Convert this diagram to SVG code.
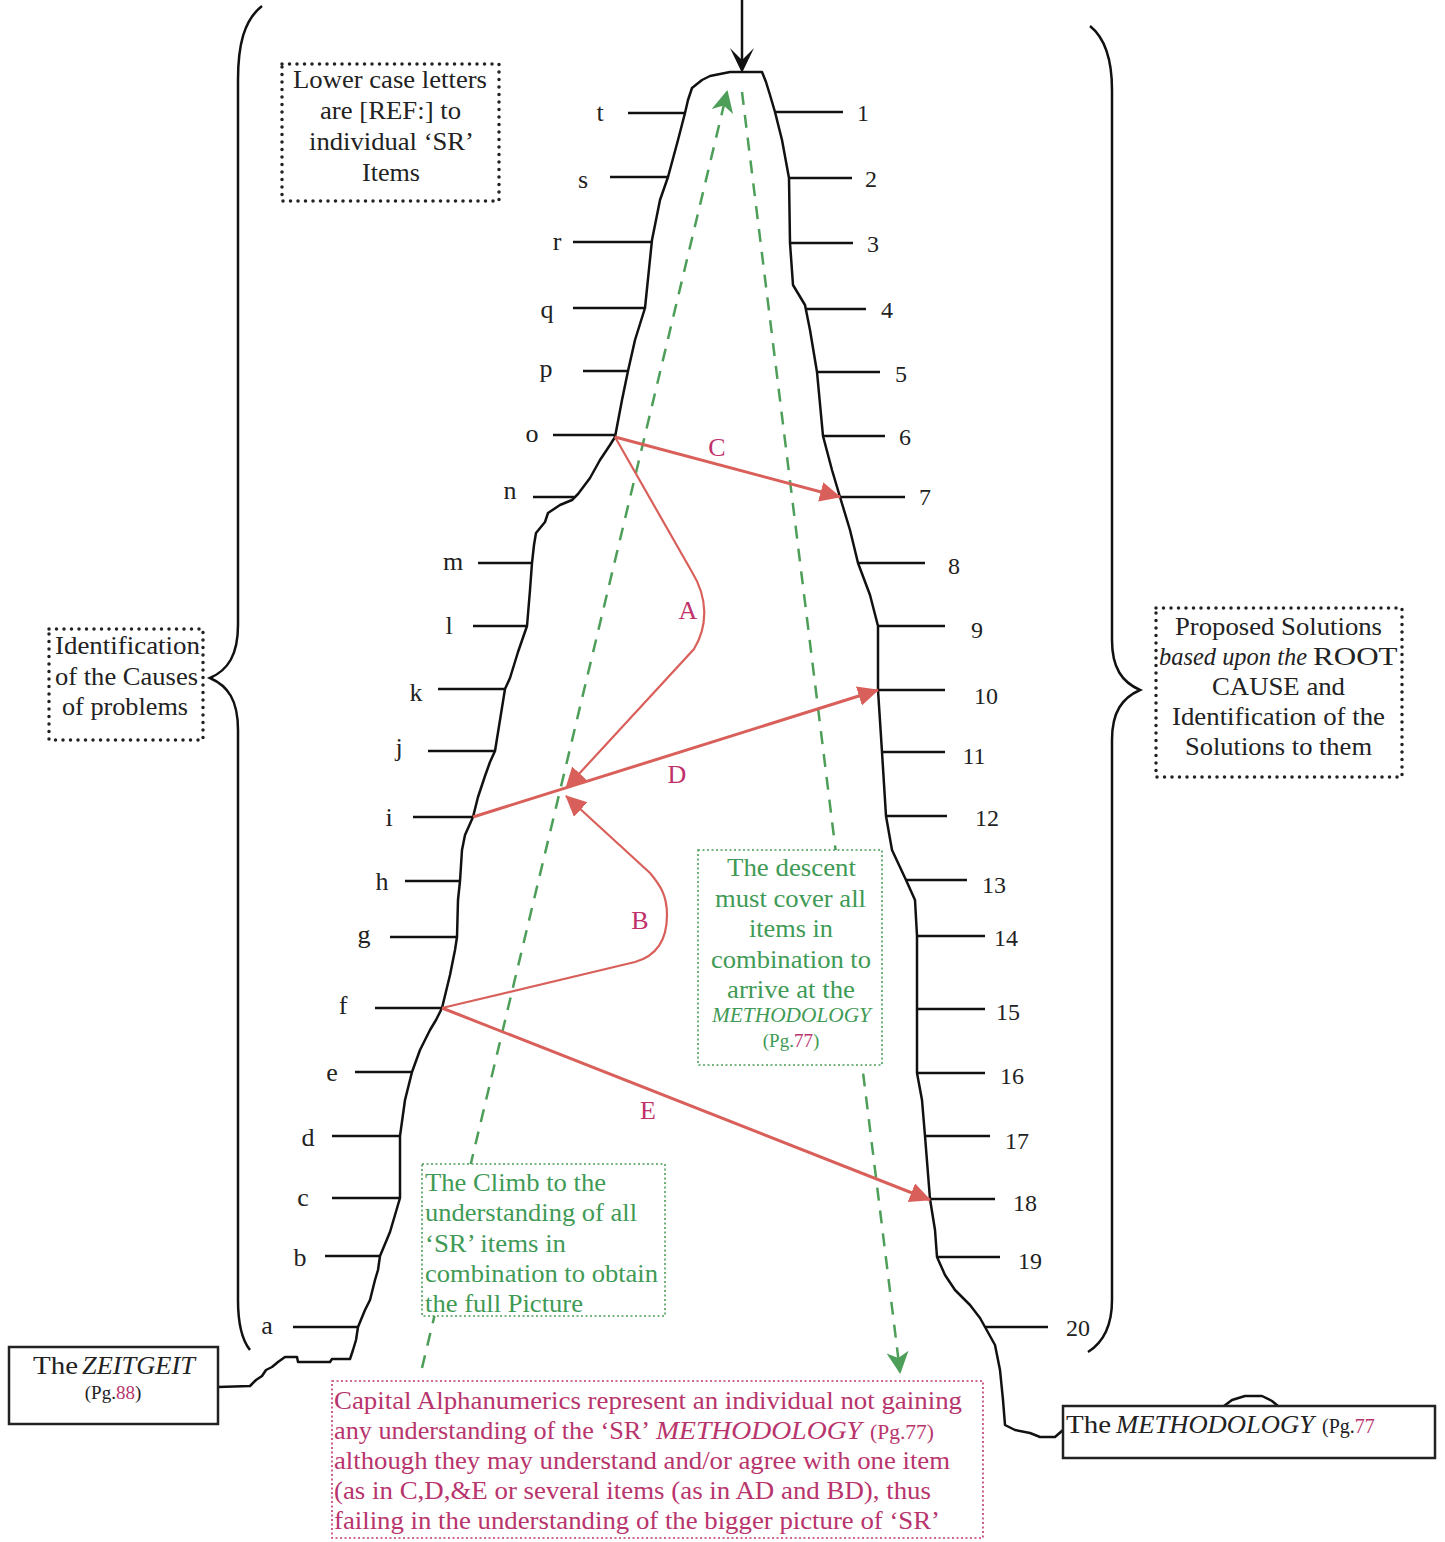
<svg xmlns="http://www.w3.org/2000/svg" width="1445" height="1542" viewBox="0 0 1445 1542">
<style>
  .t { font-family: "Liberation Serif", "Times New Roman", serif; fill: #222; }
  .lbl { font-size: 26px; text-anchor: middle; }
  .num { font-size: 24px; text-anchor: middle; }
  .tick { stroke: #111; stroke-width: 2.5; fill: none; }
  .outline { stroke: #111; stroke-width: 2.5; fill: none; stroke-linejoin: round; }
  .brace { stroke: #111; stroke-width: 2.5; fill: none; }
  .red { stroke: #d9605a; stroke-width: 3; fill: none; }
  .redthin { stroke: #d9605a; stroke-width: 2.2; fill: none; }
  .green { stroke: #4c9e58; stroke-width: 2.5; fill: none; stroke-dasharray: 13 10; }
  .bdot { fill: #fff; stroke: #222; stroke-width: 3.5; stroke-dasharray: 0 7.5; stroke-linecap: round; }
  .gdot { fill: #fff; stroke: #4c9e58; stroke-width: 1.6; stroke-dasharray: 2 2.5; }
  .mdot { fill: #fff; stroke: #c03a72; stroke-width: 1.6; stroke-dasharray: 2 2.5; }
  .solid { fill: #fff; stroke: #222; stroke-width: 2.5; }
  .gt { font-family: "Liberation Serif", "Times New Roman", serif; fill: #3f9a55; font-size: 26px; }
  .gsmall { font-family: "Liberation Serif", "Times New Roman", serif; fill: #3f9a55; font-size: 19px; }
  .mt { font-family: "Liberation Serif", "Times New Roman", serif; fill: #b8346c; font-size: 26px; }
  .cap { font-family: "Liberation Serif", "Times New Roman", serif; fill: #c0306a; font-size: 26px; text-anchor: middle; }
  .mag { fill: #b8346c; }
</style>
<defs>
  <marker id="redArrow" markerWidth="24" markerHeight="22" refX="20" refY="10" orient="auto" markerUnits="userSpaceOnUse">
    <path d="M0,0 L21,10 L0,20 Z" fill="#d9605a"/>
  </marker>
  <marker id="greenArrow" markerWidth="26" markerHeight="26" refX="20" refY="12" orient="auto" markerUnits="userSpaceOnUse">
    <path d="M0,1 L22,12 L0,23 L6,12 Z" fill="#4c9e58"/>
  </marker>
</defs>

<!-- braces -->
<g id="brace-left">
  <path class="brace" d="M262,6 C244,20 238,45 238,80 L238,625 C238,655 228,670 210,678 C228,686 238,700 238,730 L238,1300 C238,1325 242,1340 250,1350"/>
</g>
<g id="brace-right">
  <path class="brace" d="M1090,26 C1105,38 1112,58 1112,90 L1112,640 C1112,668 1122,682 1140,690 C1122,698 1112,712 1112,740 L1112,1300 C1112,1325 1104,1342 1088,1352"/>
</g>

<!-- mountain -->
<g id="mountain">
  <path class="outline" d="M218,1387 L250,1386 L256,1380 L262,1376 L266,1370 L272,1367 L278,1362 L285,1357 L297,1357 L298,1362 L330,1362 L332,1359 L350,1359 L353,1350 L356,1340 L358,1327 L365,1310 L370,1300 L375,1280 L378,1270 L380,1256 L390,1232 L395,1215 L400,1198 L400,1136 L405,1100 L412,1072 L420,1050 L430,1030 L436,1020 L442,1008 L450,975 L455,950 L457,937 L458,900 L460,881 L462,850 L465,835 L473,817 L478,797 L485,776 L490,762 L495,751 L500,720 L505,689 L510,678 L518,652 L527,626 L530,590 L532,563 L534,545 L536,533 L545,522 L548,513 L560,505 L572,500 L578,494 L590,478 L600,460 L610,445 L615,437 L622,400 L628,371 L635,340 L645,308 L652,240 L660,200 L668,177 L678,140 L685,113 L688,100 L692,88 L702,80 L710,76 L720,74 L730,72 L762,72 L766,82 L770,95 L775,112 L782,140 L789,178 L790,243 L793,285 L805,305 L810,330 L817,372 L823,436 L832,470 L840,497 L850,530 L858,563 L870,595 L878,626 L878,690 L882,752 L886,816 L892,850 L906,880 L915,900 L917,936 L917,1073 L922,1100 L925,1136 L930,1199 L935,1230 L937,1257 L945,1275 L955,1290 L970,1305 L980,1318 L985,1327 L995,1345 L1000,1370 L1003,1400 L1005,1425 L1015,1430 L1030,1433 L1040,1437 L1055,1437 L1063,1430"/>
  <path class="outline" d="M1224,1406 L1232,1400 L1245,1396 L1262,1396 L1272,1401 L1278,1406"/>
</g>

<!-- top arrow -->
<g id="top-arrow">
  <line class="tick" x1="742" y1="0" x2="742" y2="66"/>
  <path d="M730,48 L742,73 L754,48 L742,60 Z" fill="#111"/>
</g>

<!-- ticks and labels left -->
<g id="left-ticks">
  <line class="tick" x1="628" y1="113" x2="685" y2="113"/>
  <line class="tick" x1="610" y1="177" x2="668" y2="177"/>
  <line class="tick" x1="573" y1="242" x2="652" y2="242"/>
  <line class="tick" x1="573" y1="308" x2="645" y2="308"/>
  <line class="tick" x1="583" y1="371" x2="628" y2="371"/>
  <line class="tick" x1="553" y1="435" x2="615" y2="435"/>
  <line class="tick" x1="533" y1="497" x2="574" y2="497"/>
  <line class="tick" x1="478" y1="563" x2="532" y2="563"/>
  <line class="tick" x1="473" y1="626" x2="527" y2="626"/>
  <line class="tick" x1="438" y1="689" x2="505" y2="689"/>
  <line class="tick" x1="428" y1="751" x2="495" y2="751"/>
  <line class="tick" x1="413" y1="817" x2="473" y2="817"/>
  <line class="tick" x1="405" y1="881" x2="460" y2="881"/>
  <line class="tick" x1="390" y1="937" x2="457" y2="937"/>
  <line class="tick" x1="375" y1="1008" x2="442" y2="1008"/>
  <line class="tick" x1="355" y1="1072" x2="412" y2="1072"/>
  <line class="tick" x1="332" y1="1136" x2="400" y2="1136"/>
  <line class="tick" x1="332" y1="1198" x2="400" y2="1198"/>
  <line class="tick" x1="325" y1="1256" x2="380" y2="1256"/>
  <line class="tick" x1="293" y1="1327" x2="358" y2="1327"/>
  <text class="t lbl" x="600" y="121">t</text>
  <text class="t lbl" x="583" y="188">s</text>
  <text class="t lbl" x="557" y="250">r</text>
  <text class="t lbl" x="547" y="318">q</text>
  <text class="t lbl" x="546" y="377">p</text>
  <text class="t lbl" x="532" y="442">o</text>
  <text class="t lbl" x="510" y="499">n</text>
  <text class="t lbl" x="453" y="570">m</text>
  <text class="t lbl" x="449" y="634">l</text>
  <text class="t lbl" x="416" y="701">k</text>
  <text class="t lbl" x="399" y="756">j</text>
  <text class="t lbl" x="389" y="826">i</text>
  <text class="t lbl" x="382" y="890">h</text>
  <text class="t lbl" x="364" y="943">g</text>
  <text class="t lbl" x="343" y="1014">f</text>
  <text class="t lbl" x="332" y="1081">e</text>
  <text class="t lbl" x="308" y="1146">d</text>
  <text class="t lbl" x="303" y="1206">c</text>
  <text class="t lbl" x="300" y="1266">b</text>
  <text class="t lbl" x="267" y="1334">a</text>
</g>

<!-- ticks and labels right -->
<g id="right-ticks">
  <line class="tick" x1="775" y1="112" x2="843" y2="112"/>
  <line class="tick" x1="789" y1="178" x2="852" y2="178"/>
  <line class="tick" x1="790" y1="243" x2="853" y2="243"/>
  <line class="tick" x1="805" y1="309" x2="866" y2="309"/>
  <line class="tick" x1="817" y1="372" x2="880" y2="372"/>
  <line class="tick" x1="823" y1="436" x2="885" y2="436"/>
  <line class="tick" x1="840" y1="497" x2="905" y2="497"/>
  <line class="tick" x1="858" y1="563" x2="925" y2="563"/>
  <line class="tick" x1="878" y1="626" x2="945" y2="626"/>
  <line class="tick" x1="878" y1="690" x2="945" y2="690"/>
  <line class="tick" x1="882" y1="752" x2="945" y2="752"/>
  <line class="tick" x1="886" y1="816" x2="947" y2="816"/>
  <line class="tick" x1="906" y1="880" x2="967" y2="880"/>
  <line class="tick" x1="917" y1="936" x2="985" y2="936"/>
  <line class="tick" x1="917" y1="1009" x2="985" y2="1009"/>
  <line class="tick" x1="917" y1="1073" x2="985" y2="1073"/>
  <line class="tick" x1="925" y1="1136" x2="990" y2="1136"/>
  <line class="tick" x1="930" y1="1199" x2="995" y2="1199"/>
  <line class="tick" x1="937" y1="1257" x2="1000" y2="1257"/>
  <line class="tick" x1="985" y1="1327" x2="1048" y2="1327"/>
  <text class="t num" x="863" y="121">1</text>
  <text class="t num" x="871" y="187">2</text>
  <text class="t num" x="873" y="252">3</text>
  <text class="t num" x="887" y="318">4</text>
  <text class="t num" x="901" y="382">5</text>
  <text class="t num" x="905" y="445">6</text>
  <text class="t num" x="925" y="505">7</text>
  <text class="t num" x="954" y="574">8</text>
  <text class="t num" x="977" y="638">9</text>
  <text class="t num" x="986" y="704">10</text>
  <text class="t num" x="974" y="764">11</text>
  <text class="t num" x="987" y="826">12</text>
  <text class="t num" x="994" y="893">13</text>
  <text class="t num" x="1006" y="946">14</text>
  <text class="t num" x="1008" y="1020">15</text>
  <text class="t num" x="1012" y="1084">16</text>
  <text class="t num" x="1017" y="1149">17</text>
  <text class="t num" x="1025" y="1211">18</text>
  <text class="t num" x="1030" y="1269">19</text>
  <text class="t num" x="1078" y="1336">20</text>
</g>

<!-- connectors -->
<g id="connectors">
  <path class="green" d="M422,1368 L727,92" marker-end="url(#greenArrow)"/>
  <path class="green" d="M742,92 L900,1372" marker-end="url(#greenArrow)"/>
  <path class="red" d="M615,437 L840,497" marker-end="url(#redArrow)"/>
  <path class="redthin" d="M615,437 L692,572 C708,598 708,626 694,649 L566,788" marker-end="url(#redArrow)"/>
  <path class="red" d="M473,817 L878,690" marker-end="url(#redArrow)"/>
  <path class="redthin" d="M442,1008 L635,962 C660,955 667,935 667,915 C667,895 660,885 650,873 L566,796" marker-end="url(#redArrow)"/>
  <path class="red" d="M442,1008 L930,1200" marker-end="url(#redArrow)"/>
  <text class="cap" x="717" y="456">C</text>
  <text class="cap" x="688" y="619">A</text>
  <text class="cap" x="677" y="783">D</text>
  <text class="cap" x="640" y="929">B</text>
  <text class="cap" x="648" y="1119">E</text>
</g>

<!-- boxes -->
<g id="box-lowercase">
  <rect class="bdot" x="282" y="64" width="217" height="137"/>
  <text class="t" font-size="26">
    <tspan x="293" y="88" textLength="194" lengthAdjust="spacingAndGlyphs">Lower case letters</tspan>
    <tspan x="320" y="119" textLength="141" lengthAdjust="spacingAndGlyphs">are [REF:] to</tspan>
    <tspan x="309" y="150" textLength="163" lengthAdjust="spacingAndGlyphs">individual ‘SR’</tspan>
    <tspan x="362" y="181" textLength="58" lengthAdjust="spacingAndGlyphs">Items</tspan>
  </text>
</g>
<g id="box-causes">
  <rect class="bdot" x="49" y="629" width="154" height="111"/>
  <text class="t" font-size="26">
    <tspan x="55" y="654" textLength="145" lengthAdjust="spacingAndGlyphs">Identification</tspan>
    <tspan x="55" y="685" textLength="143" lengthAdjust="spacingAndGlyphs">of the Causes</tspan>
    <tspan x="62" y="715" textLength="126" lengthAdjust="spacingAndGlyphs">of problems</tspan>
  </text>
</g>
<g id="box-solutions">
  <rect class="bdot" x="1156" y="608" width="246" height="169"/>
  <text class="t" font-size="26">
    <tspan x="1175" y="635" textLength="207" lengthAdjust="spacingAndGlyphs">Proposed Solutions</tspan>
    <tspan x="1159" y="665" font-style="italic" textLength="148" lengthAdjust="spacingAndGlyphs">based upon the</tspan>
    <tspan x="1313" y="665" textLength="84" lengthAdjust="spacingAndGlyphs">ROOT</tspan>
    <tspan x="1212" y="695" textLength="133" lengthAdjust="spacingAndGlyphs">CAUSE and</tspan>
    <tspan x="1172" y="725" textLength="213" lengthAdjust="spacingAndGlyphs">Identification of the</tspan>
    <tspan x="1185" y="755" textLength="187" lengthAdjust="spacingAndGlyphs">Solutions to them</tspan>
  </text>
</g>
<g id="box-descent">
  <rect class="gdot" x="698" y="850" width="184" height="215"/>
  <text class="gt">
    <tspan x="727" y="876" textLength="129" lengthAdjust="spacingAndGlyphs">The descent</tspan>
    <tspan x="715" y="907" textLength="151" lengthAdjust="spacingAndGlyphs">must cover all</tspan>
    <tspan x="749" y="937" textLength="84" lengthAdjust="spacingAndGlyphs">items in</tspan>
    <tspan x="711" y="968" textLength="160" lengthAdjust="spacingAndGlyphs">combination to</tspan>
    <tspan x="727" y="998" textLength="128" lengthAdjust="spacingAndGlyphs">arrive at the</tspan>
    <tspan x="712" y="1022" font-style="italic" font-size="22" textLength="159" lengthAdjust="spacingAndGlyphs">METHODOLOGY</tspan>
  </text>
  <text class="gsmall" text-anchor="middle" x="791" y="1047">(Pg.<tspan class="mag">77</tspan>)</text>
</g>
<g id="box-climb">
  <rect class="gdot" x="422" y="1164" width="243" height="152"/>
  <text class="gt">
    <tspan x="425" y="1191" textLength="181" lengthAdjust="spacingAndGlyphs">The Climb to the</tspan>
    <tspan x="425" y="1221" textLength="212" lengthAdjust="spacingAndGlyphs">understanding of all</tspan>
    <tspan x="425" y="1252" textLength="141" lengthAdjust="spacingAndGlyphs">‘SR’ items in</tspan>
    <tspan x="425" y="1282" textLength="233" lengthAdjust="spacingAndGlyphs">combination to obtain</tspan>
    <tspan x="425" y="1312" textLength="158" lengthAdjust="spacingAndGlyphs">the full Picture</tspan>
  </text>
</g>
<g id="box-capital">
  <rect class="mdot" x="332" y="1381" width="651" height="157"/>
  <text class="mt">
    <tspan x="334" y="1409" textLength="628" lengthAdjust="spacingAndGlyphs">Capital Alphanumerics represent an individual not gaining</tspan>
    <tspan x="334" y="1439" textLength="314" lengthAdjust="spacingAndGlyphs">any understanding of the ‘SR’</tspan>
    <tspan x="656" y="1439" font-style="italic" textLength="206" lengthAdjust="spacingAndGlyphs">METHODOLOGY</tspan>
    <tspan x="870" y="1439" font-size="20" textLength="64" lengthAdjust="spacingAndGlyphs">(Pg.77)</tspan>
    <tspan x="334" y="1469" textLength="616" lengthAdjust="spacingAndGlyphs">although they may understand and/or agree with one item</tspan>
    <tspan x="334" y="1499" textLength="597" lengthAdjust="spacingAndGlyphs">(as in C,D,&amp;E or several items (as in AD and BD), thus</tspan>
    <tspan x="334" y="1529" textLength="606" lengthAdjust="spacingAndGlyphs">failing in the understanding of the bigger picture of ‘SR’</tspan>
  </text>
</g>
<g id="box-zeitgeit">
  <rect class="solid" x="9" y="1347" width="209" height="77"/>
  <text class="t" font-size="26">
    <tspan x="33" y="1374" textLength="45" lengthAdjust="spacingAndGlyphs">The</tspan>
    <tspan x="82" y="1374" font-style="italic" textLength="113" lengthAdjust="spacingAndGlyphs">ZEITGEIT</tspan>
  </text>
  <text class="t" font-size="19" text-anchor="middle" x="113" y="1399">(Pg.<tspan class="mag">88</tspan>)</text>
</g>
<g id="box-methodology">
  <rect class="solid" x="1063" y="1406" width="372" height="52"/>
  <text class="t" font-size="26">
    <tspan x="1066" y="1433" textLength="45" lengthAdjust="spacingAndGlyphs">The</tspan>
    <tspan x="1116" y="1433" font-style="italic" textLength="198" lengthAdjust="spacingAndGlyphs">METHODOLOGY</tspan>
  </text>
  <text class="t" font-size="20" x="1322" y="1433">(Pg.<tspan class="mag">77</tspan></text>
</g>
</svg>
